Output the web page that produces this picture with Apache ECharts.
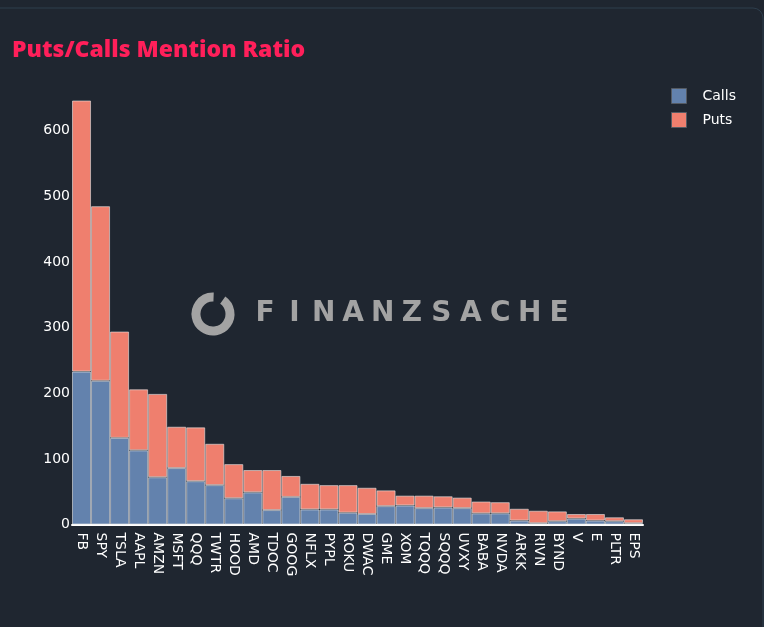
<!DOCTYPE html>
<html>
<head>
<meta charset="utf-8">
<script src="https://cdn.jsdelivr.net/npm/echarts@6/dist/echarts.min.js"></script>
<style>
  html, body { margin: 0; padding: 0; background: #1f2630; }
  #chart { width: 764px; height: 627px; }
</style>
</head>
<body>
<div id="chart"></div>
<script>
// tickers, sorted by total mentions
var tickers = ['FB', 'SPY', 'TSLA', 'AAPL', 'AMZN', 'MSFT', 'QQQ', 'TWTR', 'HOOD', 'AMD',
  'TDOC', 'GOOG', 'NFLX', 'PYPL', 'ROKU', 'DWAC', 'GME', 'XOM', 'TQQQ', 'SQQQ',
  'UVXY', 'BABA', 'NVDA', 'ARKK', 'RIVN', 'BYND', 'V', 'E', 'PLTR', 'EPS'];
var calls = [233, 219, 132, 113, 72, 86, 66, 60, 40, 49,
  22, 42, 23, 23, 18, 16, 28, 29, 25, 26,
  25, 17, 17, 6, 2, 5, 9, 6, 5, 2];
var puts = [413, 266, 162, 93, 127, 63, 82, 63, 52, 34,
  61, 32, 39, 37, 42, 40, 24, 15, 19, 17,
  16, 18, 17, 18, 19, 15, 7, 10, 6, 6];
var yTicks = [0, 100, 200, 300, 400, 500, 600];

var myChart = echarts.init(document.getElementById('chart'));
var barBorder = 'rgba(230,230,230,0.6)';

// watermark letters, spaced out by hand (canvas ignores letterSpacing)
var markText = 'FINANZSACHE';
var markLetters = markText.split('').map(function (ch, i) {
  return {
    type: 'text',
    silent: true,
    z: 100,
    x: 265 + i * 29.4,
    y: 314,
    style: {
      text: ch,
      fill: '#a3a3a3',
      font: 'bold 28px "DejaVu Sans"',
      align: 'center',
      verticalAlign: 'middle'
    }
  };
});

myChart.setOption({
  backgroundColor: '#1f2630',
  animation: false,
  title: {
    text: 'Puts/Calls Mention Ratio',
    left: 12,
    top: 39,
    padding: 0,
    textStyle: {
      color: '#ff1f5a',
      fontFamily: 'Open Sans',
      fontWeight: 800,
      fontSize: 23
    }
  },
  legend: {
    orient: 'vertical',
    left: 671,
    top: 88,
    padding: 0,
    itemGap: 8,
    itemWidth: 15,
    itemHeight: 15,
    icon: 'rect',
    itemStyle: { borderColor: '#555b63', borderWidth: 1 },
    textStyle: {
      color: '#ffffff',
      fontFamily: 'DejaVu Sans',
      fontSize: 14,
      padding: [0, 0, 0, 11]
    },
    data: ['Calls', 'Puts']
  },
  grid: {
    left: 72,
    right: 121,
    top: 78.2,
    bottom: 102.5
  },
  xAxis: {
    type: 'category',
    data: tickers,
    axisLine: { lineStyle: { color: '#ffffff', width: 2 } },
    axisTick: { show: false },
    axisLabel: {
      rotate: -90,
      margin: 8,
      interval: 0,
      color: '#ffffff',
      fontFamily: 'DejaVu Sans',
      fontSize: 14
    }
  },
  yAxis: {
    type: 'value',
    min: yTicks[0],
    max: 680,
    interval: 100,
    axisLine: { show: false },
    axisTick: { show: false },
    splitLine: { show: false },
    axisLabel: {
      showMaxLabel: false,
      margin: 2,
      color: '#ffffff',
      fontFamily: 'DejaVu Sans',
      fontSize: 14
    }
  },
  series: [
    {
      name: 'Calls',
      type: 'bar',
      stack: 'total',
      barCategoryGap: 0,
      itemStyle: { color: '#6382ad', borderColor: barBorder, borderWidth: 1 },
      data: calls
    },
    {
      name: 'Puts',
      type: 'bar',
      stack: 'total',
      barCategoryGap: 0,
      itemStyle: { color: '#ef7f6e', borderColor: barBorder, borderWidth: 1 },
      data: puts
    }
  ],
  graphic: [
    {
      // card outline
      type: 'rect',
      silent: true,
      shape: { x: -20, y: 8, width: 783, height: 660, r: 10 },
      style: { fill: 'none', stroke: '#2e3e4d', lineWidth: 1 }
    },
    {
      // watermark ring
      type: 'arc',
      silent: true,
      z: 100,
      shape: { cx: 213, cy: 314, r: 17, startAngle: -55 * Math.PI / 180, endAngle: 272 * Math.PI / 180, clockwise: true },
      style: { stroke: '#a3a3a3', lineWidth: 9, fill: 'none' }
    }
  ].concat(markLetters)
});
window.addEventListener('resize', function () {
  myChart.resize();
});
</script>
</body>
</html>
